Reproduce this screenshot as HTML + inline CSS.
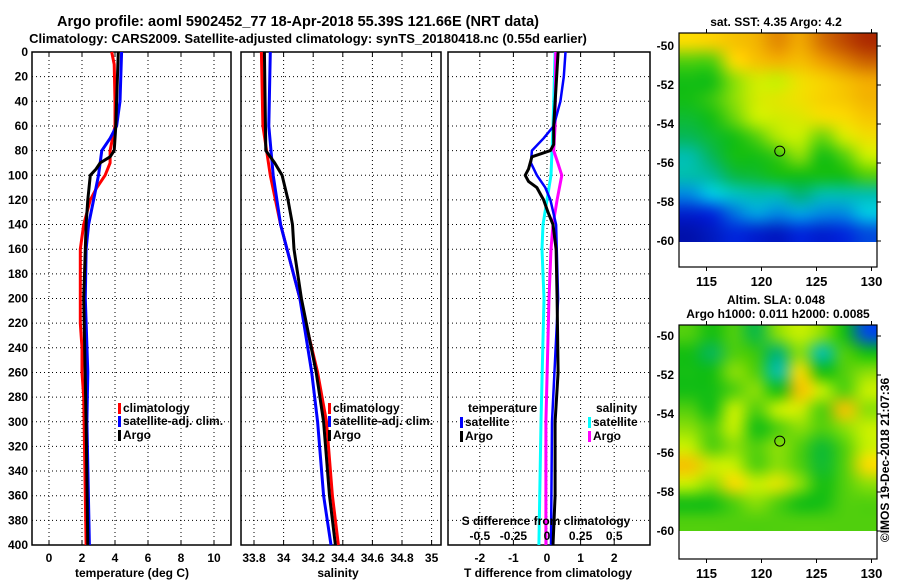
<!DOCTYPE html>
<html><head><meta charset="utf-8"><style>
html,body{margin:0;padding:0;background:#fff;width:900px;height:580px;overflow:hidden}
svg text{font-family:"Liberation Sans",sans-serif;font-weight:bold;fill:#000}
canvas{position:absolute}
</style></head><body>
<canvas id="sst" width="198" height="209" style="left:679px;top:33px;width:198px;height:209px"></canvas>
<canvas id="sla" width="198" height="206" style="left:679px;top:325px;width:198px;height:206px"></canvas>
<svg id="s" width="900" height="580" style="position:absolute;left:0;top:0"></svg>
<script>
// ---------- data ----------
const depthTClim=[0,10,40,60,80,90,100,110,120,140,160,200,220,240,260,280,400];
const tClim=[3.8,3.95,4.0,4.0,3.7,3.7,3.4,2.9,2.5,2.1,1.9,1.9,1.9,2.0,2.0,2.1,2.25];
const depthTArgo=[0,40,60,80,85,90,95,100,120,140,160,200,300,400];
const tArgo=[4.2,4.1,4.05,3.95,3.7,3.1,2.85,2.5,2.35,2.25,2.2,2.1,2.25,2.35];
const depthTSat=[0,40,60,70,80,100,120,140,160,200,260,300,400];
const tSat=[4.4,4.3,4.1,3.7,3.2,3.0,2.7,2.4,2.25,2.2,2.35,2.3,2.45];
const depthSClim=[0,60,100,140,200,260,300,360,400];
const sClim=[33.85,33.86,33.91,33.98,34.11,34.23,34.29,34.33,34.37];
const depthSArgo=[0,80,90,100,120,140,160,200,260,300,360,400];
const sArgo=[33.87,33.88,33.94,33.99,34.03,34.06,34.07,34.12,34.22,34.27,34.31,34.35];
const depthSSat=[0,60,100,140,200,260,300,360,400];
const sSat=[33.91,33.9,33.93,33.98,34.11,34.19,34.23,34.27,34.32];
const depthDTSat=[0,20,40,50,60,70,80,90,100,110,120,140,200,300,400];
const dTSat=[0.55,0.5,0.4,0.3,0.2,-0.1,-0.45,-0.48,-0.3,-0.05,0.1,0.27,0.33,0.15,0.12];
const depthDTArgo=[0,60,75,80,85,95,100,105,110,120,130,140,160,200,260,300,360,400];
const dTArgo=[0.33,0.2,0.2,0.1,-0.45,-0.55,-0.65,-0.55,-0.3,-0.1,0.03,0.18,0.27,0.3,0.33,0.24,0.24,0.18];
const depthDSSat=[0,60,100,120,140,160,200,300,400];
const dSSat=[0.06,0.045,0.03,0,-0.03,-0.037,-0.022,-0.045,-0.06];
const depthDSArgo=[0,60,80,90,100,120,140,160,200,300,400];
const dSArgo=[0.065,0.06,0.05,0.08,0.11,0.075,0.045,0.03,0.015,-0.008,-0.008];
const sstGrid=[
[0.7,0.72,0.75,0.78,0.85,0.8,0.88,0.93,0.97],
[0.5,0.5,0.7,0.75,0.78,0.76,0.82,0.86,0.9],
[0.45,0.45,0.55,0.62,0.6,0.68,0.72,0.76,0.8],
[0.45,0.48,0.55,0.62,0.65,0.68,0.72,0.74,0.78],
[0.42,0.45,0.52,0.6,0.62,0.64,0.68,0.7,0.74],
[0.38,0.42,0.45,0.5,0.58,0.6,0.52,0.62,0.68],
[0.3,0.38,0.45,0.45,0.48,0.55,0.45,0.5,0.6],
[0.3,0.32,0.4,0.42,0.45,0.45,0.45,0.45,0.5],
[0.2,0.25,0.28,0.3,0.3,0.35,0.3,0.3,0.3],
[0.1,0.12,0.18,0.22,0.2,0.22,0.2,0.2,0.25],
[0.05,0.08,0.12,0.1,0.08,0.12,0.1,0.12,0.15]];
const slaGrid=[
[0.5,0.45,0.5,0.4,0.55,0.6,0.55,0.45,0.15],
[0.45,0.38,0.5,0.48,0.35,0.55,0.3,0.5,0.45],
[0.45,0.45,0.55,0.5,0.3,0.7,0.45,0.5,0.55],
[0.45,0.45,0.5,0.55,0.45,0.75,0.6,0.5,0.6],
[0.5,0.45,0.6,0.5,0.6,0.62,0.5,0.75,0.55],
[0.55,0.5,0.6,0.45,0.5,0.55,0.5,0.55,0.6],
[0.6,0.5,0.55,0.5,0.55,0.5,0.42,0.5,0.6],
[0.75,0.62,0.6,0.5,0.55,0.5,0.42,0.5,0.7],
[0.6,0.55,0.7,0.6,0.65,0.55,0.45,0.5,0.55],
[0.45,0.45,0.5,0.55,0.5,0.45,0.45,0.5,0.5],
[0.5,0.5,0.5,0.5,0.5,0.5,0.5,0.5,0.5]];
const depthTicks=[0,20,40,60,80,100,120,140,160,180,200,220,240,260,280,300,320,340,360,380,400];
const tTicks=[0,2,4,6,8,10];
const sTicks=[33.8,34,34.2,34.4,34.6,34.8,35];
const dTTicks=[-2,-1,0,1,2];
const dSTickLabels=["-0.5","-0.25","0","0.25","0.5"];
const latTicks=[-50,-52,-54,-56,-58,-60];
const lonTicks=[115,120,125,130];
const floatLon=121.66, floatLat=-55.39;

// ---------- helpers ----------
const svg=document.getElementById('s');const NS='http://www.w3.org/2000/svg';
function mk(tag,at,parent){const e=document.createElementNS(NS,tag);for(const k in at)e.setAttribute(k,at[k]);(parent||svg).appendChild(e);return e;}
function txt(x,y,s,size,anchor,name){const t=mk('text',{x:x,y:y,'font-size':size,'text-anchor':anchor||'middle'});t.textContent=s;


return t;}
const yD=d=>52+d*493/400;
const xT=v=>49+v*16.5;
const xS=v=>254+(v-33.8)*148;
const xDT=v=>547+v*33.6;
const xDS=v=>547+v*134.4;

function panel(x0,x1,name,gridXs,xf){
  const g=mk('g',{});
  
  
  depthTicks.forEach(d=>{if(d>0&&d<400)mk('line',{x1:x0,x2:x1,y1:yD(d),y2:yD(d),stroke:'#000','stroke-width':1,'stroke-dasharray':'1,3'},g);});
  gridXs.forEach(v=>{const x=xf(v);mk('line',{x1:x,x2:x,y1:52,y2:545,stroke:'#000','stroke-width':1,'stroke-dasharray':'1,3'},g);
    mk('line',{x1:x,x2:x,y1:545,y2:540,stroke:'#000'},g);mk('line',{x1:x,x2:x,y1:52,y2:57,stroke:'#000'},g);});
  mk('rect',{x:x0,y:52,width:x1-x0,height:493,fill:'none',stroke:'#000','stroke-width':1.5},g);
  return g;
}
function line(ds,vs,xf,color,name,w){
  const p=mk('polyline',{points:ds.map((d,i)=>xf(vs[i]).toFixed(1)+','+yD(d).toFixed(1)).join(' '),fill:'none',stroke:color,'stroke-width':w||3,'stroke-linejoin':'round'});
  
  
}
function legend(x,y,color,label,name){
  const r=mk('rect',{x:x,y:y-9,width:3,height:11,fill:color});
  
  
  txt(x+5,y,label,12,'start',name);
}

// titles
txt(298,26,'Argo profile: aoml 5902452_77 18-Apr-2018 55.39S 121.66E (NRT data)',14.5,'middle','title-line-1');
txt(308,43,'Climatology: CARS2009. Satellite-adjusted climatology: synTS_20180418.nc (0.55d earlier)',13,'middle','title-line-2');

// y axis labels
depthTicks.forEach(d=>txt(28,yD(d)+4,String(d),12,'end','y-tick-'+d));

// panel 1
panel(32,231,'temperature-panel',tTicks,xT);
tTicks.forEach(v=>txt(xT(v),562,String(v),12,'middle','t-tick-'+v));
txt(132,577,'temperature (deg C)',12,'middle','temperature-axis-title');
line(depthTClim,tClim,xT,'#f00','temp-climatology-line');
line(depthTSat,tSat,xT,'#00f','temp-satellite-line');
line(depthTArgo,tArgo,xT,'#000','temp-argo-line');
legend(118,412,'#f00','climatology','legend-climatology-1');
legend(118,425,'#00f','satellite-adj. clim.','legend-satellite-1');
legend(118,439,'#000','Argo','legend-argo-1');

// panel 2
panel(241,441,'salinity-panel',sTicks,xS);
sTicks.forEach(v=>txt(xS(v),562,String(v),12,'middle','s-tick-'+v));
txt(338,577,'salinity',12,'middle','salinity-axis-title');
line(depthSClim,sClim,xS,'#f00','sal-climatology-line');
line(depthSSat,sSat,xS,'#00f','sal-satellite-line');
line(depthSArgo,sArgo,xS,'#000','sal-argo-line');
legend(328,412,'#f00','climatology','legend-climatology-2');
legend(328,425,'#00f','satellite-adj. clim.','legend-satellite-2');
legend(328,439,'#000','Argo','legend-argo-2');

// panel 3
panel(448,650,'difference-panel',dTTicks,xDT);
dTTicks.forEach(v=>txt(xDT(v),562,String(v),12,'middle','dt-tick-'+v));
txt(548,577,'T difference from climatology',12,'middle','t-diff-axis-title');
line(depthDSSat,dSSat,xDS,'#0ff','sal-diff-satellite-line');
line(depthDSArgo,dSArgo,xDS,'#f0f','sal-diff-argo-line');
line(depthDTSat,dTSat,xDT,'#00f','temp-diff-satellite-line',2.5);
line(depthDTArgo,dTArgo,xDT,'#000','temp-diff-argo-line');
txt(468,412,'temperature',12,'start','legend-temperature-heading');
legend(460,426,'#00f','satellite','legend-temp-satellite');
legend(460,440,'#000','Argo','legend-temp-argo');
txt(596,412,'salinity',12,'start','legend-salinity-heading');
legend(588,426,'#0ff','satellite','legend-sal-satellite');
legend(588,440,'#f0f','Argo','legend-sal-argo');
txt(546,525,'S difference from climatology',12,'middle','s-diff-axis-title');
dTTicks.forEach((v,i)=>txt(xDT(v),540,dSTickLabels[i],12,'middle','ds-tick-'+i));

// colormaps
function jet(v){const stops=[[0,[0,0,140]],[0.12,[0,40,220]],[0.25,[0,200,230]],[0.35,[0,180,120]],[0.45,[20,190,20]],[0.6,[200,240,0]],[0.7,[250,220,0]],[0.82,[240,160,0]],[1,[160,20,0]]];
  for(let i=1;i<stops.length;i++){if(v<=stops[i][0]){const a=stops[i-1],b=stops[i],t=(v-a[0])/(b[0]-a[0]);return a[1].map((c,k)=>Math.round(c+(b[1][k]-c)*t));}}return stops[stops.length-1][1];}
function drawGrid(id,grid,smooth){
  const c=document.getElementById(id),ctx=c.getContext('2d');
  const small=document.createElement('canvas');small.width=9;small.height=grid.length;
  const sc=small.getContext('2d');const im=sc.createImageData(9,grid.length);
  grid.forEach((row,r)=>row.forEach((v,k)=>{const col=jet(v),o=(r*9+k)*4;im.data[o]=col[0];im.data[o+1]=col[1];im.data[o+2]=col[2];im.data[o+3]=255;}));
  sc.putImageData(im,0,0);ctx.imageSmoothingEnabled=smooth;ctx.imageSmoothingQuality='high';ctx.drawImage(small,0,0,c.width,c.height);
}
drawGrid('sst',sstGrid,true);
drawGrid('sla',slaGrid,true);

// maps frames
const xLon=l=>679+(l-112.5)*11;
function map(top,lat50,name){
  const yLat=l=>lat50+(-50-l)*19.5;
  const g=mk('g',{});
  
  
  mk('rect',{x:679,y:top,width:198,height:234,fill:'none',stroke:'#000','stroke-width':1.2},g);
  latTicks.forEach(l=>{mk('line',{x1:877,x2:881,y1:yLat(l),y2:yLat(l),stroke:'#000'},g);txt(674,yLat(l)+4,String(l),12,'end',name+'-lat-'+l);});
  lonTicks.forEach(l=>{mk('line',{x1:xLon(l),x2:xLon(l),y1:top+234,y2:top+238,stroke:'#000'},g);mk('line',{x1:xLon(l),x2:xLon(l),y1:top,y2:top-4,stroke:'#000'},g);txt(xLon(l),top+253,String(l),13,'middle',name+'-lon-'+l);});
  const c=mk('circle',{cx:xLon(floatLon),cy:yLat(floatLat),r:5,fill:'none',stroke:'#000','stroke-width':1},g);
  
  
}
map(33,46,'sst-map');
map(325,336,'sla-map');
txt(776,26,'sat. SST: 4.35 Argo: 4.2',12,'middle','sst-map-title');
txt(776,304,'Altim. SLA: 0.048',12,'middle','sla-map-title');
txt(778,318,'Argo h1000: 0.011 h2000: 0.0085',12,'middle','sla-map-subtitle');
const cp=txt(0,0,'©IMOS 19-Dec-2018 21:07:36',12,'middle','copyright-text');
cp.setAttribute('font-weight','normal');cp.setAttribute('transform','translate(889,460) rotate(-90)');
</script>
</body></html>
